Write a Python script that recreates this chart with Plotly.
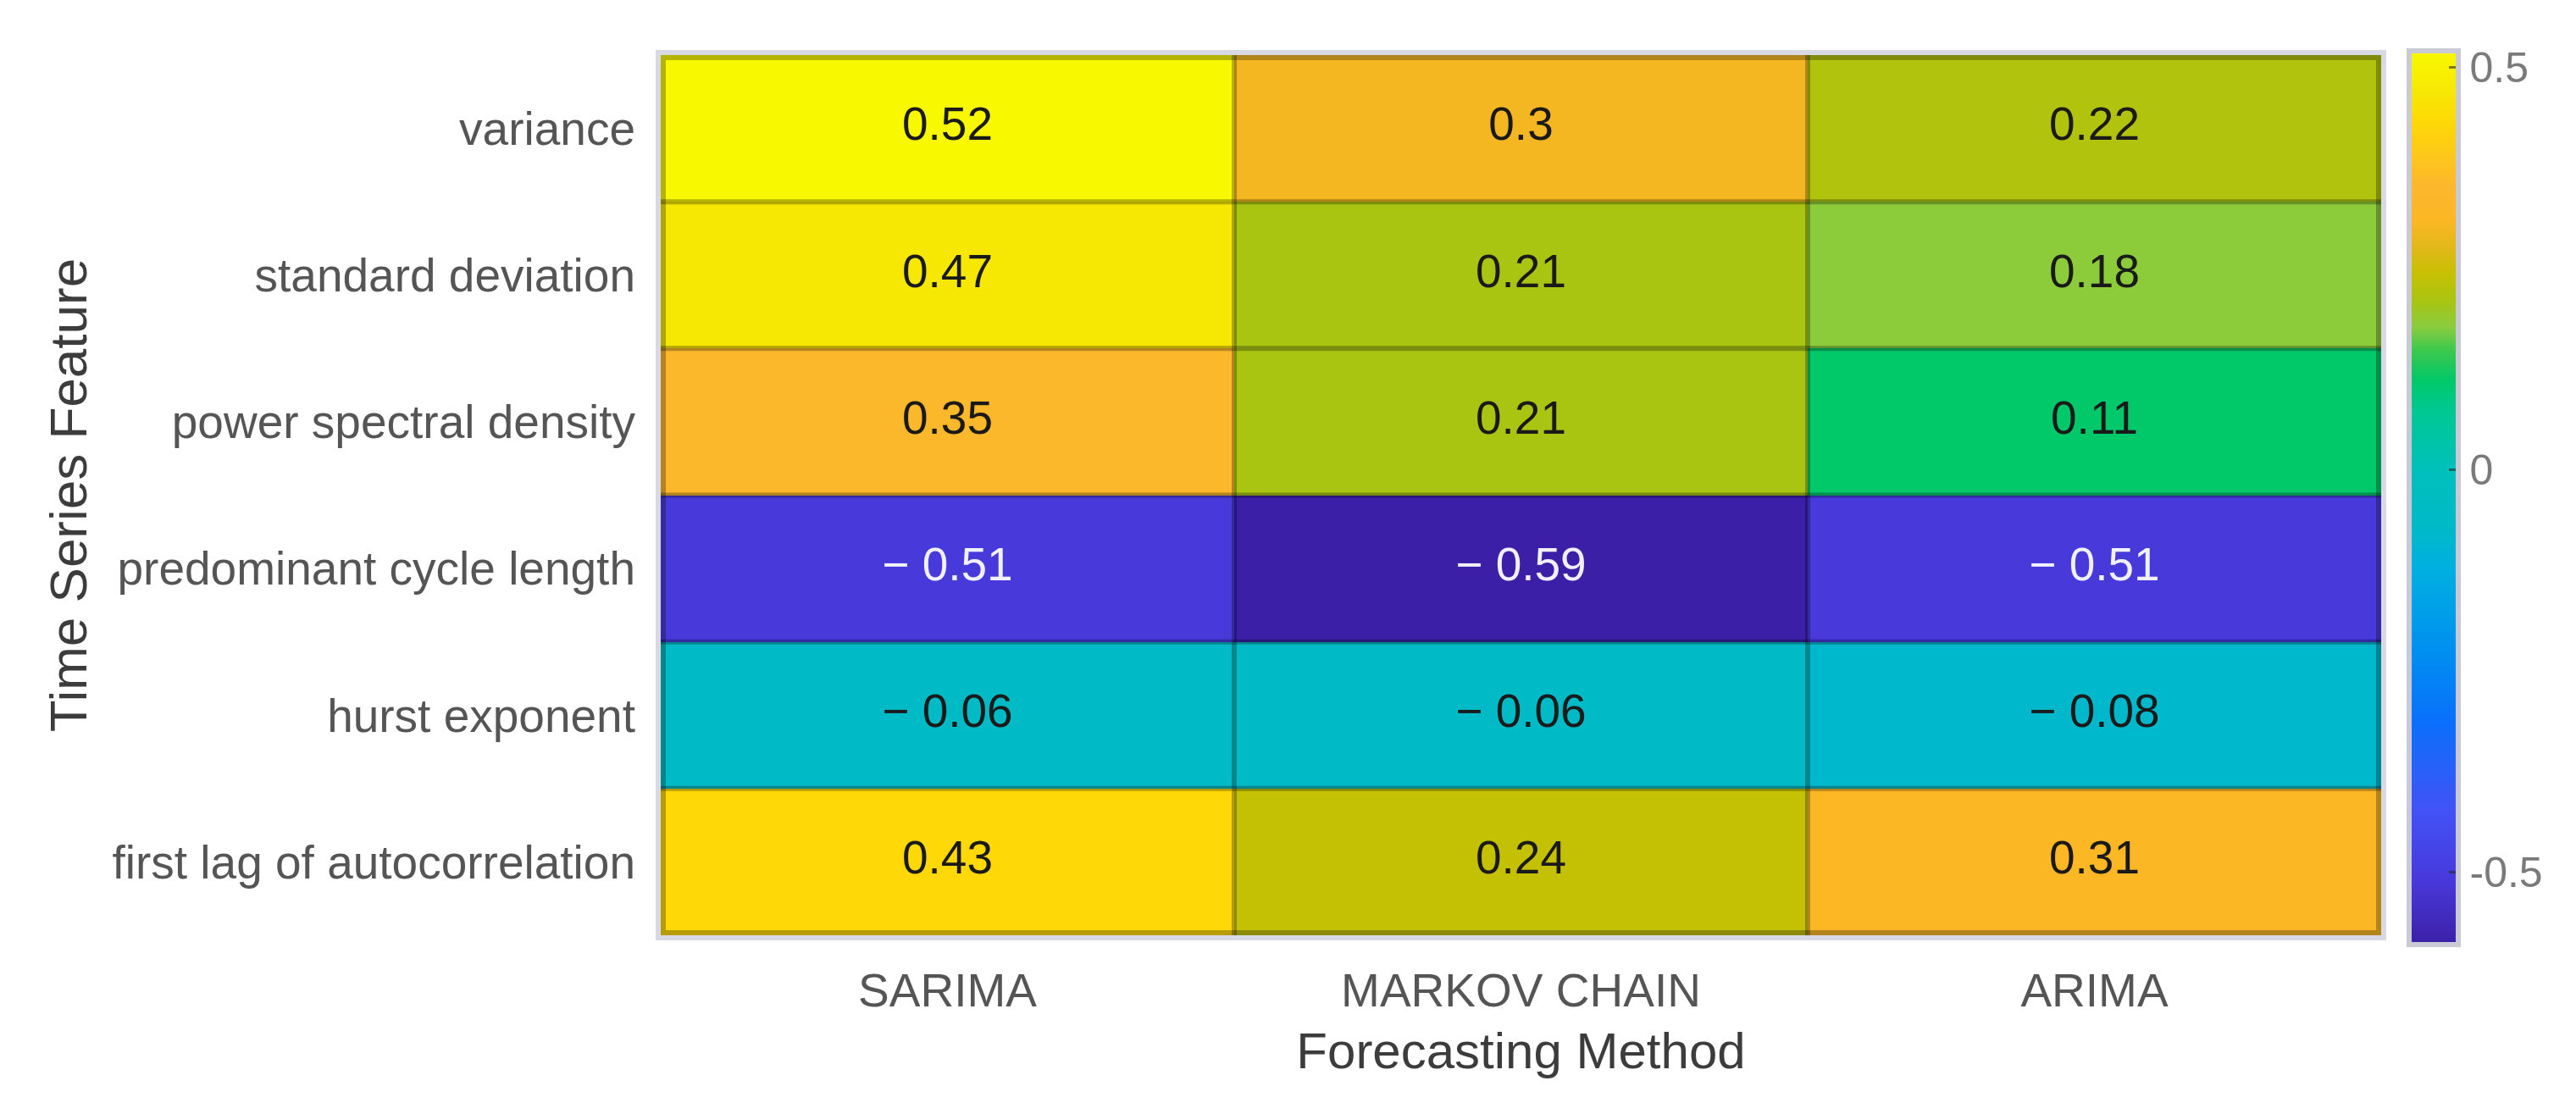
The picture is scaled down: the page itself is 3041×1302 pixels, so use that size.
import plotly.graph_objects as go

# ---- data ----
methods = ["SARIMA", "MARKOV CHAIN", "ARIMA"]
features = [
    "variance",
    "standard deviation",
    "power spectral density",
    "predominant cycle length",
    "hurst exponent",
    "first lag of autocorrelation",
]
sarima = [0.52, 0.47, 0.35, -0.51, -0.06, 0.43]
markov = [0.30, 0.21, 0.21, -0.59, -0.06, 0.24]
arima = [0.22, 0.18, 0.11, -0.51, -0.08, 0.31]
cbar_ticks = [-0.5, 0, 0.5]
cbar_ticktext = ["-0.5", "0", "0.5"]

# ---- build matrix ----
cols = [sarima, markov, arima]
z = [[cols[j][i] for j in range(len(methods))] for i in range(len(features))]
allv = [v for row in z for v in row]
zmin, zmax = min(allv), max(allv)


def fmt(v):
    return ("\u2212 " + f"{abs(v):g}") if v < 0 else f"{v:g}"


# parula-like scale as seen in the reference
colorscale = [
    [0.00, "#3b1fa6"],
    [0.07, "#4838da"],
    [0.15, "#4252f6"],
    [0.25, "#0a70fb"],
    [0.33, "#0090f0"],
    [0.42, "#00afe0"],
    [0.47, "#00bac6"],
    [0.53, "#00c0bc"],
    [0.60, "#00c890"],
    [0.63, "#00c86a"],
    [0.665, "#3cc84e"],
    [0.69, "#88cc40"],
    [0.72, "#a9c412"],
    [0.75, "#c6c002"],
    [0.78, "#e2b81a"],
    [0.81, "#fbb724"],
    [0.85, "#fcb82c"],
    [0.92, "#fed806"],
    [0.955, "#f7e804"],
    [1.00, "#f8f900"],
]

fig = go.Figure()
fig.add_trace(
    go.Heatmap(
        z=z,
        x=methods,
        y=features,
        zmin=zmin,
        zmax=zmax,
        colorscale=colorscale,
        hoverinfo="skip",
        colorbar=dict(
            x=1.0162,
            xanchor="left",
            xpad=0,
            y=0.497,
            yanchor="middle",
            ypad=0,
            len=1.015,
            lenmode="fraction",
            thickness=58,
            outlinewidth=6,
            outlinecolor="#cacad6",
            tickvals=cbar_ticks,
            ticktext=cbar_ticktext,
            ticks="inside",
            ticklen=14,
            tickwidth=3,
            tickcolor="rgba(40,40,40,0.6)",
            tickfont=dict(family="Liberation Sans, Arial", size=50, color="#7a7a7a"),
        ),
    )
)

# cell labels
tx, ty, tt, tc = [], [], [], []
for i, f in enumerate(features):
    for j, m in enumerate(methods):
        v = z[i][j]
        tx.append(m)
        ty.append(f)
        tt.append(fmt(v))
        tc.append("#f2f0ff" if v < -0.3 else "#1a1a1a")
fig.add_trace(
    go.Scatter(
        x=tx,
        y=ty,
        mode="text",
        text=tt,
        textposition="middle center",
        textfont=dict(family="Liberation Sans, Arial", size=55, color=tc),
        hoverinfo="skip",
        showlegend=False,
    )
)

# cell grid (darkened boundaries)
shapes = []
nx, ny = len(methods), len(features)
for k in range(1, nx):
    shapes.append(dict(type="line", xref="x", yref="y", x0=k - 0.5, x1=k - 0.5,
                       y0=-0.5, y1=ny - 0.5, line=dict(color="rgba(0,0,0,0.28)", width=6)))
for k in range(1, ny):
    shapes.append(dict(type="line", xref="x", yref="y", x0=-0.5, x1=nx - 0.5,
                       y0=k - 0.5, y1=k - 0.5, line=dict(color="rgba(0,0,0,0.28)", width=6)))
shapes.append(dict(type="rect", xref="x", yref="y", x0=-0.5, x1=nx - 0.5,
                   y0=-0.5, y1=ny - 0.5, line=dict(color="rgba(0,0,0,0.28)", width=12)))

fig.update_layout(
    width=3041,
    height=1302,
    margin=dict(l=772, r=238, t=57, b=206, autoexpand=False),
    paper_bgcolor="white",
    plot_bgcolor="white",
    shapes=shapes,
    showlegend=False,
    font=dict(family="Liberation Sans, Arial", color="#4d4d4d"),
)
fig.update_xaxes(
    type="category",
    range=[-0.5, nx - 0.5],
    showgrid=False,
    zeroline=False,
    showline=True,
    mirror=True,
    linecolor="#d9d9e6",
    linewidth=6,
    ticks="",
    ticklabelstandoff=12,
    tickfont=dict(family="Liberation Sans, Arial", size=55, color="#555555"),
    title=dict(text="Forecasting Method", standoff=22,
               font=dict(family="Liberation Sans, Arial", size=60, color="#3c3c3c")),
    fixedrange=True,
)
fig.update_yaxes(
    type="category",
    autorange=False,
    range=[ny - 0.5, -0.5],
    showgrid=False,
    zeroline=False,
    showline=True,
    mirror=True,
    linecolor="#d9d9e6",
    linewidth=6,
    ticks="",
    ticklabelstandoff=13,
    tickfont=dict(family="Liberation Sans, Arial", size=55, color="#555555"),
    title=dict(text="Time Series Feature", standoff=12,
               font=dict(family="Liberation Sans, Arial", size=62, color="#3c3c3c")),
    fixedrange=True,
)

fig.write_html("out.html")
